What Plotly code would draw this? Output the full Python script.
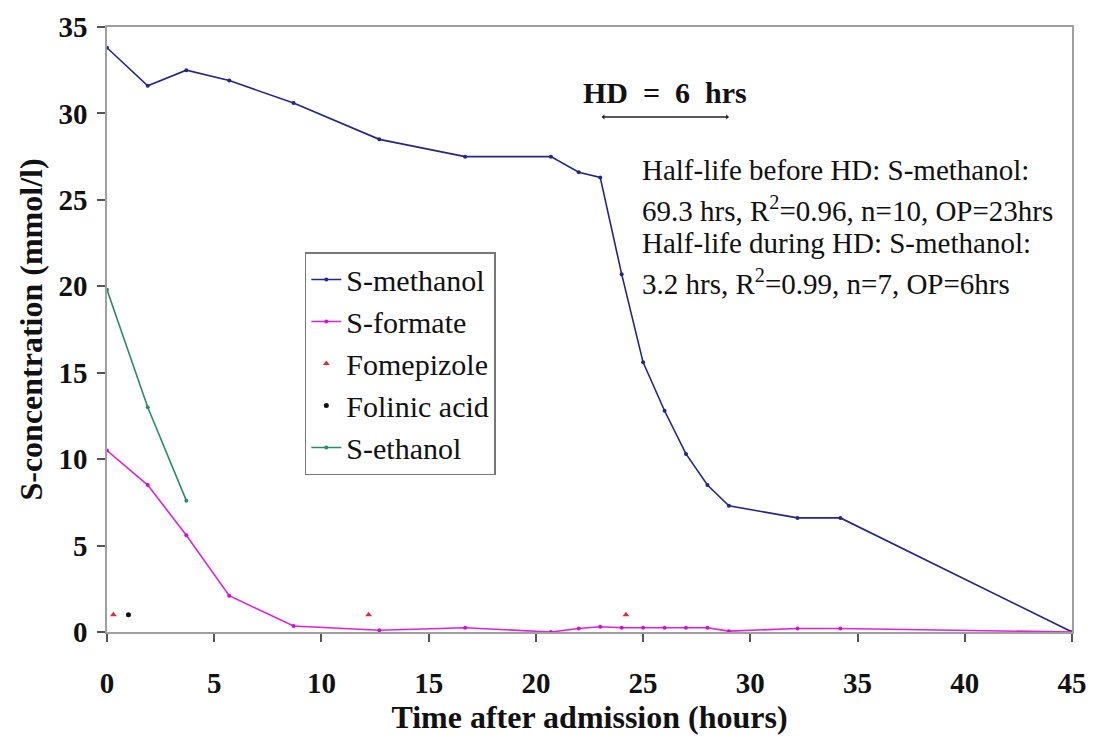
import plotly.graph_objects as go

# ---- data ----
methanol_t = [0, 1.9, 3.7, 5.7, 8.7, 12.7, 16.7, 20.7, 22.0, 23.0, 24.0, 25.0, 26.0, 27.0, 28.0, 29.0, 32.2, 34.2, 45.0]
methanol_c = [33.8, 31.6, 32.5, 31.9, 30.6, 28.5, 27.5, 27.5, 26.6, 26.3, 20.7, 15.6, 12.8, 10.3, 8.5, 7.3, 6.6, 6.6, 0.0]

formate_t = [0, 1.9, 3.7, 5.7, 8.7, 12.7, 16.7, 20.7, 22.0, 23.0, 24.0, 25.0, 26.0, 27.0, 28.0, 29.0, 32.2, 34.2, 45.0]
formate_c = [10.5, 8.5, 5.6, 2.1, 0.35, 0.1, 0.25, 0.0, 0.2, 0.3, 0.25, 0.25, 0.25, 0.25, 0.25, 0.05, 0.2, 0.2, 0.0]

fomepizole_t = [0.3, 12.2, 24.2]
fomepizole_c = [1.0, 1.0, 1.0]

folinic_t = [1.0]
folinic_c = [1.0]

ethanol_t = [0, 1.9, 3.7]
ethanol_c = [19.8, 13.0, 7.6]

hd_start, hd_end, hd_level = 23.0, 29.0, 29.8

x_ticks = [0, 5, 10, 15, 20, 25, 30, 35, 40, 45]
y_ticks = [0, 5, 10, 15, 20, 25, 30, 35]

SERIF = "Liberation Serif"

fig = go.Figure()
fig.add_trace(go.Scatter(x=methanol_t, y=methanol_c, mode="lines+markers", name="S-methanol",
                         line=dict(color="#24248a", width=1.6), marker=dict(size=4, color="#24248a")))
fig.add_trace(go.Scatter(x=formate_t, y=formate_c, mode="lines+markers", name="S-formate",
                         line=dict(color="#e020e0", width=1.6), marker=dict(size=4, color="#d010d0")))
fig.add_trace(go.Scatter(x=fomepizole_t, y=fomepizole_c, mode="markers", name="Fomepizole",
                         marker=dict(size=6, symbol="triangle-up", color="#d83040")))
fig.add_trace(go.Scatter(x=folinic_t, y=folinic_c, mode="markers", name="Folinic acid",
                         marker=dict(size=5, color="#111111")))
fig.add_trace(go.Scatter(x=ethanol_t, y=ethanol_c, mode="lines+markers", name="S-ethanol",
                         line=dict(color="#2a8a6c", width=1.6), marker=dict(size=4, color="#2a8a6c")))

# HD arrow
fig.add_annotation(x=hd_end, y=hd_level, ax=hd_start, ay=hd_level, xref="x", yref="y",
                   axref="x", ayref="y", text="", showarrow=True, arrowhead=1, startarrowhead=1,
                   arrowside="end+start", arrowsize=0.6, arrowwidth=1.5, arrowcolor="#222222")
fig.add_annotation(x=(hd_start + hd_end) / 2, y=31.2, xref="x", yref="y", showarrow=False,
                   text="<b>HD\u00a0\u00a0=\u00a0\u00a06\u00a0\u00a0hrs</b>",
                   font=dict(family=SERIF, size=30, color="#111111"))

lines = [
    "Half-life before HD: S-methanol:",
    "69.3 hrs, R<sup>2</sup>=0.96, n=10, OP=23hrs",
    "Half-life during HD: S-methanol:",
    "3.2 hrs, R<sup>2</sup>=0.99, n=7, OP=6hrs",
]
ys = [0.764, 0.700, 0.643, 0.578]
for t, yy in zip(lines, ys):
    fig.add_annotation(x=0.552, y=yy, xref="paper", yref="paper", xanchor="left", yanchor="middle",
                       showarrow=False, text=t, font=dict(family=SERIF, size=29, color="#111111"))

axis_common = dict(showline=True, linecolor="#a0a0a0", linewidth=1.5, mirror=True,
                   ticks="outside", ticklen=8, tickcolor="#555555", tickwidth=1.5,
                   showgrid=False, zeroline=False,
                   tickfont=dict(family=SERIF, size=29, color="#111111", weight="bold"))

fig.update_layout(
    width=1099, height=739,
    margin=dict(l=107, r=27, t=27, b=107),
    paper_bgcolor="white", plot_bgcolor="white",
    showlegend=True,
    legend=dict(x=0.205, y=0.628, xanchor="left", yanchor="top",
                bgcolor="white", bordercolor="#777777", borderwidth=1.5,
                font=dict(family=SERIF, size=30, color="#111111"),
                itemwidth=30, tracegroupgap=0),
    xaxis=dict(range=[0, 45], tickvals=x_ticks, ticklabelstandoff=16,
               title=dict(text="<b>Time after admission (hours)</b>", standoff=4,
                          font=dict(family=SERIF, size=32, color="#111111")),
               **axis_common),
    yaxis=dict(range=[0, 35], tickvals=y_ticks, ticklabelstandoff=4,
               title=dict(text="<b>S-concentration (mmol/l)</b>", standoff=6,
                          font=dict(family=SERIF, size=32, color="#111111")),
               **axis_common),
)

fig.write_html("out.html")
